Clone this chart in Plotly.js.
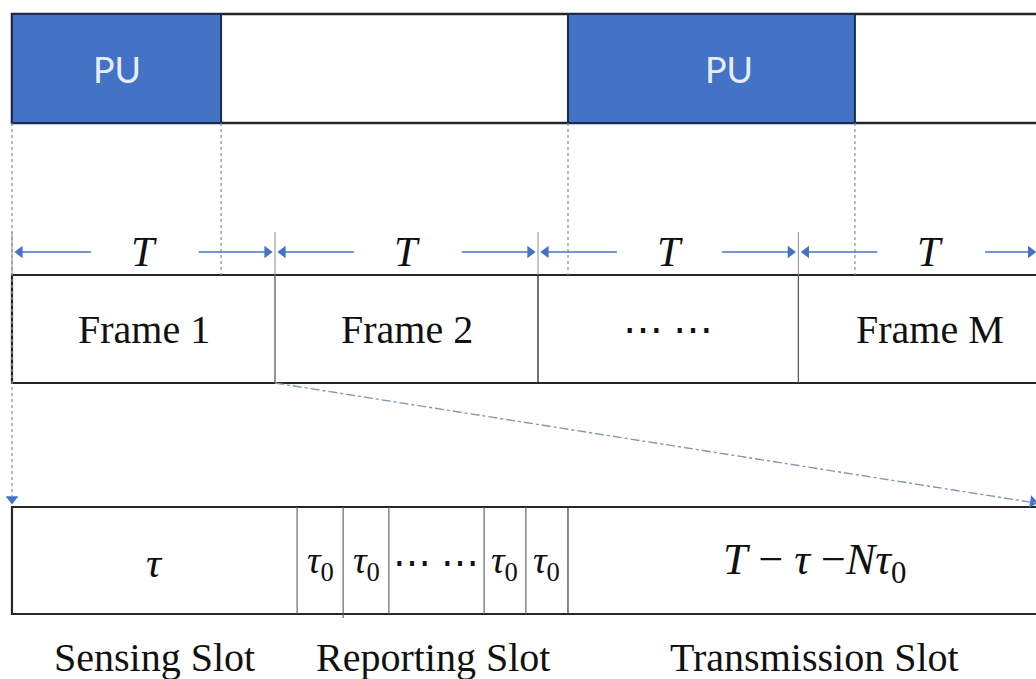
<!DOCTYPE html>
<html>
<head>
<meta charset="utf-8">
<script src="https://cdn.plot.ly/plotly-3.0.1.min.js"></script>
<style>html,body{margin:0;padding:0;background:#fff;}#chart{width:1036px;height:679px;}</style>
</head>
<body>
<div id="chart"></div>
<script>
// ---- data (x in units of the frame length T) ----
const frameEdges = [0, 1, 2, 2.99, 3.99];
const frameLabels = ['Frame 1', 'Frame 2', '\u22EF \u22EF', 'Frame M'];
const durationLabel = 'T';
const puStart = [0, 2.114];
const puEnd = [0.795, 3.205];
const puLabels = ['PU', 'PU'];
const slotEdges = [0, 1.084, 1.259, 1.433, 1.795, 1.954, 2.114, 3.99];
const slotLabels = [
  '<i>\u03C4</i>',
  '<i>\u03C4</i><sub>0</sub>',
  '<i>\u03C4</i><sub>0</sub>',
  '\u22EF \u22EF',
  '<i>\u03C4</i><sub>0</sub>',
  '<i>\u03C4</i><sub>0</sub>',
  '<i>T</i> \u2212 <i>\u03C4</i> \u2212<i>N\u03C4</i><sub>0</sub>'
];
const slotGroupNames = ['Sensing Slot', 'Reporting Slot', 'Transmission Slot'];
const slotGroupFirst = [0, 1, 6];
const slotGroupLast = [1, 6, 7];

// ---- layout constants ----
const XMIN = -0.0456, XMAX = 3.8935;
const rowTop = [14, 123], rowFrame = [275, 383], rowSlot = [507, 614];
const arrowY = 252, groupY = 657;
const BLUE = '#4472C4', DARK = '#262626', GRID = '#5a5a5a', DOT = '#7d8fb0';
const SERIF = 'Liberation Serif, Times New Roman, serif';
const puLabelShift = [0, 18];
const HEAD = 0.022; // half arrowhead length in x units

const shapes = [];
const annotations = [];
const heads = {x: [], y: [], symbol: [], angle: []};
function rect(x0, x1, y, fill, lc, lw) {
  shapes.push({type: 'rect', xref: 'x', yref: 'y', x0, x1, y0: y[0], y1: y[1],
    fillcolor: fill, line: {color: lc, width: lw}, layer: 'below'});
}
function seg(x0, y0, x1, y1, color, width, dash) {
  shapes.push({type: 'line', xref: 'x', yref: 'y', x0, y0, x1, y1,
    line: {color, width, dash: dash || 'solid'}});
}
function text(x, y, t, size, color, family, xshift) {
  annotations.push({xref: 'x', yref: 'y', x, y, text: t, showarrow: false, xshift: xshift || 0,
    font: {size, color: color || '#111', family: family || SERIF}});
}
function head(x, y, symbol, angle) {
  heads.x.push(x); heads.y.push(y); heads.symbol.push(symbol); heads.angle.push(angle || 0);
}

// top (primary user) row
rect(0, 4.3, rowTop, '#ffffff', DARK, 2.5);
puStart.forEach((s, i) => {
  rect(s, puEnd[i], rowTop, BLUE, '#1c2b4f', 2);
  text((s + puEnd[i]) / 2, (rowTop[0] + rowTop[1]) / 2, puLabels[i], 36, '#e3eefa',
       'Lato, Open Sans, sans-serif', puLabelShift[i]);
});
// dotted projections from PU edges
[...puStart, ...puEnd].forEach(x => {
  if (x === 0) seg(x, rowTop[1], x, 496, DOT, 1.2, 'dot');
  else seg(x, rowTop[1], x, rowFrame[0], DOT, 1.2, 'dot');
});
head(0, 499, 'triangle-down');

// frame row
rect(0, 4.3, rowFrame, '#ffffff', DARK, 2.2);
frameLabels.forEach((lab, i) => {
  const s = frameEdges[i], e = frameEdges[i + 1];
  if (i > 0) seg(s, rowFrame[0], s, rowFrame[1], i === 2 ? DARK : GRID, 1.3);
  seg(s, 232, s, rowFrame[0], '#8a8a8a', 1);
  text((s + e) / 2, (rowFrame[0] + rowFrame[1]) / 2, lab, 40);
  // duration arrows
  const right = Math.min(e, XMAX + 0.01);
  seg(s + HEAD, arrowY, s + 0.3, arrowY, BLUE, 1.5);
  head(s + 0.008 + HEAD, arrowY, 'triangle-left');
  seg(e - 0.29, arrowY, right - HEAD, arrowY, BLUE, 1.5);
  head(right - 0.008 - HEAD, arrowY, 'triangle-right');
  text(s + 0.5, arrowY, '<i>' + durationLabel + '</i>', 42);
});

// zoom line from frame 2 start down to slot row right end
seg(frameEdges[1], rowFrame[1], XMAX, 503, '#8796b4', 1.4, 'dashdot');
head(XMAX - 0.012, 502, 'triangle-right', 9);

// slot row
rect(0, 4.3, rowSlot, '#ffffff', DARK, 2.2);
slotLabels.forEach((lab, i) => {
  const s = slotEdges[i], e = slotEdges[i + 1];
  if (i > 0) seg(s, rowSlot[0], s, i === 2 ? rowSlot[1] + 4 : rowSlot[1], i === 6 ? DARK : GRID, 1.1);
  text((s + e) / 2, (rowSlot[0] + rowSlot[1]) / 2 + 2, lab, i === 0 ? 42 : (i === 6 ? 44 : 38), '#111', SERIF);
});
slotGroupNames.forEach((name, g) => {
  const cx = (slotEdges[slotGroupFirst[g]] + slotEdges[slotGroupLast[g]]) / 2;
  text(cx, groupY, name, 40);
});

const layout = {
  width: 1036, height: 679,
  margin: {l: 0, r: 0, t: 0, b: 0},
  paper_bgcolor: '#ffffff', plot_bgcolor: '#ffffff',
  showlegend: false,
  xaxis: {range: [XMIN, XMAX], visible: false, fixedrange: true},
  yaxis: {range: [679, 0], visible: false, fixedrange: true},
  shapes, annotations
};
const headTrace = {
  x: heads.x, y: heads.y, type: 'scatter', mode: 'markers', hoverinfo: 'skip', cliponaxis: false,
  marker: {symbol: heads.symbol, angle: heads.angle, size: 11, color: BLUE, line: {width: 0}}
};
Plotly.newPlot('chart', [headTrace], layout, {staticPlot: true, displayModeBar: false});
</script>
</body>
</html>
